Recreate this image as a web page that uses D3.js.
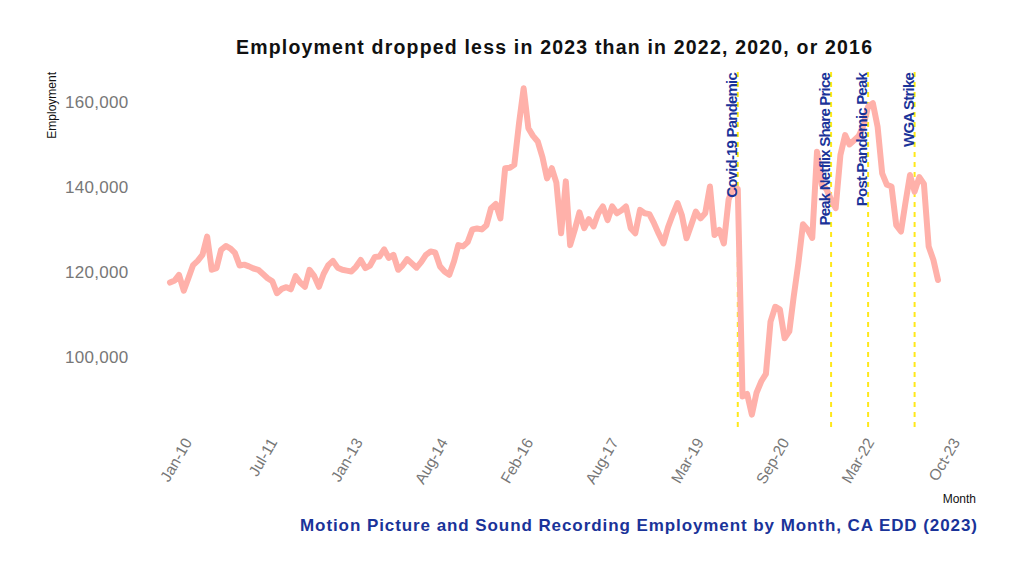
<!DOCTYPE html>
<html>
<head>
<meta charset="utf-8">
<script src="https://cdn.jsdelivr.net/npm/d3@7"></script>
<style>
  body { margin: 0; background: #fff; }
  svg { font-family: "Liberation Sans", Arial, sans-serif; }
</style>
</head>
<body>
<svg width="1024" height="576"></svg>
<script>
// monthly employment, Jan 2010 .. Oct 2023 (one row per year)
const firstMonth = new Date(2010, 0, 1);
const employment = [
  117500, 118000, 119300, 115600, 118500, 121600, 122600, 124000, 128300, 120500, 120900, 125200, // 2010
  126100, 125500, 124500, 121500, 121700, 121300, 120800, 120500, 119500, 118500, 117800, 115000, // 2011
  116000, 116400, 115900, 119000, 117500, 116500, 120500, 119000, 116500, 119500, 121600, 122600, // 2012
  121000, 120500, 120300, 120100, 121200, 122800, 120900, 121500, 123500, 123600, 125300, 123300, // 2013
  124000, 120500, 121500, 123000, 122000, 121000, 122300, 124000, 124800, 124600, 121300, 120100, // 2014
  119300, 122500, 126300, 126000, 127000, 130000, 130200, 130000, 131000, 135000, 136000, 132600, // 2015
  144400, 144500, 145200, 155000, 163200, 153800, 152000, 150700, 147000, 142000, 144400, 141000, // 2016
  129100, 141300, 126300, 130000, 134000, 130300, 132400, 130700, 133800, 135400, 132200, 135400, // 2017
  133800, 134500, 135400, 130300, 129100, 134600, 133800, 133600, 131400, 129000, 126700, 130500, // 2018
  133500, 136200, 133400, 127900, 131000, 134200, 132600, 133800, 140100, 128700, 129900, 126700, // 2019
  137000, 140000, 139500, 90700, 91300, 86400, 91500, 94200, 96000, 108300, 111800, 111200,        // 2020
  104400, 106000, 114000, 122000, 131200, 129900, 128000, 148300, 140500, 139500, 137000, 135000, // 2021
  147500, 152200, 150000, 151000, 152000, 154500, 158900, 159700, 154200, 143200, 140500, 140100, // 2022
  131000, 129500, 136000, 142800, 138900, 142300, 140700, 126000, 122800, 118100                  // 2023
];

const events = ["Covid-19 Pandemic", "Peak Netflix Share Price", "Post-Pandemic Peak", "WGA Strike"];
const eventDates = [new Date(2020, 2, 1), new Date(2021, 10, 1), new Date(2022, 6, 1), new Date(2023, 4, 1)];

// breaks spread evenly from first to last month
const tickDates = [
  new Date(2010, 0, 1), new Date(2011, 6, 12), new Date(2013, 0, 21), new Date(2014, 7, 1),
  new Date(2016, 1, 10), new Date(2017, 7, 20), new Date(2019, 2, 1), new Date(2020, 8, 10),
  new Date(2022, 2, 20), new Date(2023, 9, 1)
];
const yTicks = [100000, 120000, 140000, 160000];

const data = employment.map((v, i) => ({ date: d3.timeMonth.offset(firstMonth, i), value: v }));

const panel = { left: 131.6, right: 976.4, top: 72, bottom: 431 };
const svg = d3.select("svg");

const xExt = d3.extent(data, d => d.date);
const xPad = (xExt[1] - xExt[0]) * 0.05;
const x = d3.scaleTime()
  .domain([new Date(+xExt[0] - xPad), new Date(+xExt[1] + xPad)])
  .range([panel.left, panel.right]);

const yExt = d3.extent(data, d => d.value);
const yPad = (yExt[1] - yExt[0]) * 0.05;
const y = d3.scaleLinear()
  .domain([yExt[0] - yPad, yExt[1] + yPad])
  .range([panel.bottom, panel.top]);

// title
svg.append("text")
  .attr("x", 554).attr("y", 54)
  .attr("text-anchor", "middle")
  .attr("font-size", "19.5px").attr("font-weight", "bold")
  .attr("textLength", 636).attr("lengthAdjust", "spacing")
  .attr("fill", "#111")
  .text("Employment dropped less in 2023 than in 2022, 2020, or 2016");

// y axis
const yAxis = svg.append("g")
  .attr("transform", `translate(${panel.left - 1},0)`)
  .call(d3.axisLeft(y).tickValues(yTicks).tickFormat(d3.format(",")).tickSize(0).tickPadding(2));
yAxis.select(".domain").remove();
yAxis.selectAll("text")
  .attr("font-family", "Liberation Sans, Arial, sans-serif")
  .attr("font-size", "17px")
  .attr("fill", "#777")
  .attr("letter-spacing", "0.3px");

svg.append("text")
  .attr("transform", "translate(56,72) rotate(-90)")
  .attr("text-anchor", "end")
  .attr("font-size", "12px")
  .attr("fill", "#111")
  .text("Employment");

// x axis, rotated labels
const xAxis = svg.append("g")
  .attr("transform", `translate(0,${panel.bottom})`)
  .call(d3.axisBottom(x).tickValues(tickDates).tickFormat(d3.timeFormat("%b-%y")).tickSize(0));
xAxis.select(".domain").remove();
xAxis.selectAll("text")
  .attr("font-family", "Liberation Sans, Arial, sans-serif")
  .attr("font-size", "15.5px")
  .attr("fill", "#777")
  .attr("text-anchor", "end")
  .attr("dy", null)
  .attr("y", null)
  .attr("transform", "translate(22,11) rotate(-60)");

svg.append("text")
  .attr("x", 976).attr("y", 503)
  .attr("text-anchor", "end")
  .attr("font-size", "12px")
  .attr("fill", "#111")
  .text("Month");

// event markers
const ev = svg.append("g");
eventDates.forEach((d, i) => {
  const ex = x(d);
  ev.append("line")
    .attr("x1", ex).attr("x2", ex)
    .attr("y1", panel.top).attr("y2", panel.bottom)
    .attr("stroke", "#ffe81a")
    .attr("stroke-width", 2)
    .attr("stroke-dasharray", "5,5");
});

// employment line
const line = d3.line().x(d => x(d.date)).y(d => y(d.value));
svg.append("path")
  .datum(data)
  .attr("fill", "none")
  .attr("stroke", "#ffb1aa")
  .attr("stroke-width", 6)
  .attr("stroke-linejoin", "round")
  .attr("stroke-linecap", "round")
  .attr("d", line);

// event labels over the line
eventDates.forEach((d, i) => {
  svg.append("text")
    .attr("transform", `translate(${x(d) - 1},${panel.top + 1}) rotate(-90)`)
    .attr("text-anchor", "end")
    .attr("font-size", "15px")
    .attr("font-weight", "bold")
    .attr("letter-spacing", "-0.8px")
    .attr("fill", "#1a3399")
    .text(events[i]);
});

// caption
svg.append("text")
  .attr("x", 977).attr("y", 531)
  .attr("text-anchor", "end")
  .attr("font-size", "17px").attr("font-weight", "bold")
  .attr("textLength", 677).attr("lengthAdjust", "spacing")
  .attr("fill", "#1a3399")
  .text("Motion Picture and Sound Recording Employment by Month, CA EDD (2023)");
</script>
</body>
</html>
